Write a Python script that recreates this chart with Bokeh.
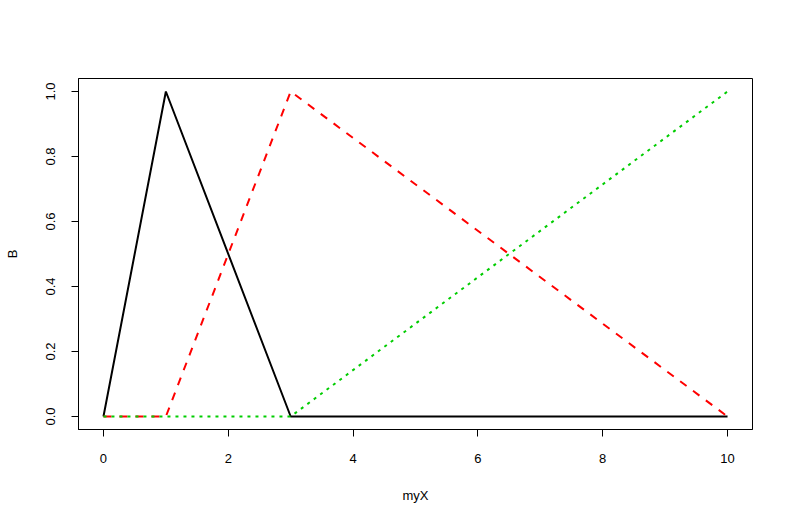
from bokeh.plotting import figure
from bokeh.embed import file_html
from bokeh.resources import INLINE
from bokeh.models import Range1d, FixedTicker

myX = [0, 1, 3, 10]
B1 = [0, 1, 0, 0]
B2 = [0, 0, 1, 0]
B3 = [0, 0, 0, 1]
x_ticks = [0, 2, 4, 6, 8, 10]
y_ticks = [0.0, 0.2, 0.4, 0.6, 0.8, 1.0]
y_tick_labels = {0.0: "0.0", 0.2: "0.2", 0.4: "0.4", 0.6: "0.6", 0.8: "0.8", 1.0: "1.0"}

FONT = "Liberation Sans"

p = figure(width=777, height=512, output_backend="svg", toolbar_location=None,
           x_range=Range1d(-0.4, 10.4), y_range=Range1d(-0.04, 1.04),
           min_border_left=78, min_border_right=25, min_border_top=78, min_border_bottom=83)
p.grid.visible = False
p.outline_line_color = "black"
p.outline_line_width = 1
p.background_fill_color = "white"
p.border_fill_color = "white"

p.line(myX, B1, line_color="black", line_width=2)
p.line(myX, B2, line_color="#FF0000", line_width=2, line_dash="8 8")
p.line(myX, B3, line_color="#00CD00", line_width=2, line_dash="3 5")

for ax in (p.xaxis[0], p.yaxis[0]):
    ax.axis_line_color = "black"
    ax.major_tick_line_color = "black"
    ax.major_tick_in = 0
    ax.major_tick_out = 7
    ax.minor_tick_line_color = None
    ax.major_label_text_font = FONT
    ax.major_label_text_font_size = "13px"
    ax.major_label_text_color = "black"
    ax.axis_label_text_font = FONT
    ax.axis_label_text_font_size = "13px"
    ax.axis_label_text_font_style = "normal"
    ax.axis_label_text_color = "black"

p.xaxis.ticker = FixedTicker(ticks=x_ticks)
p.yaxis.ticker = FixedTicker(ticks=y_ticks)
p.yaxis.major_label_overrides = y_tick_labels
p.yaxis.major_label_orientation = "vertical"
p.xaxis.axis_label = "myX"
p.yaxis.axis_label = "B"
p.xaxis.major_label_standoff = 17
p.yaxis.major_label_standoff = 17
p.xaxis.axis_label_standoff = 22
p.yaxis.axis_label_standoff = 23

open("out.html", "w").write(file_html(p, INLINE))
